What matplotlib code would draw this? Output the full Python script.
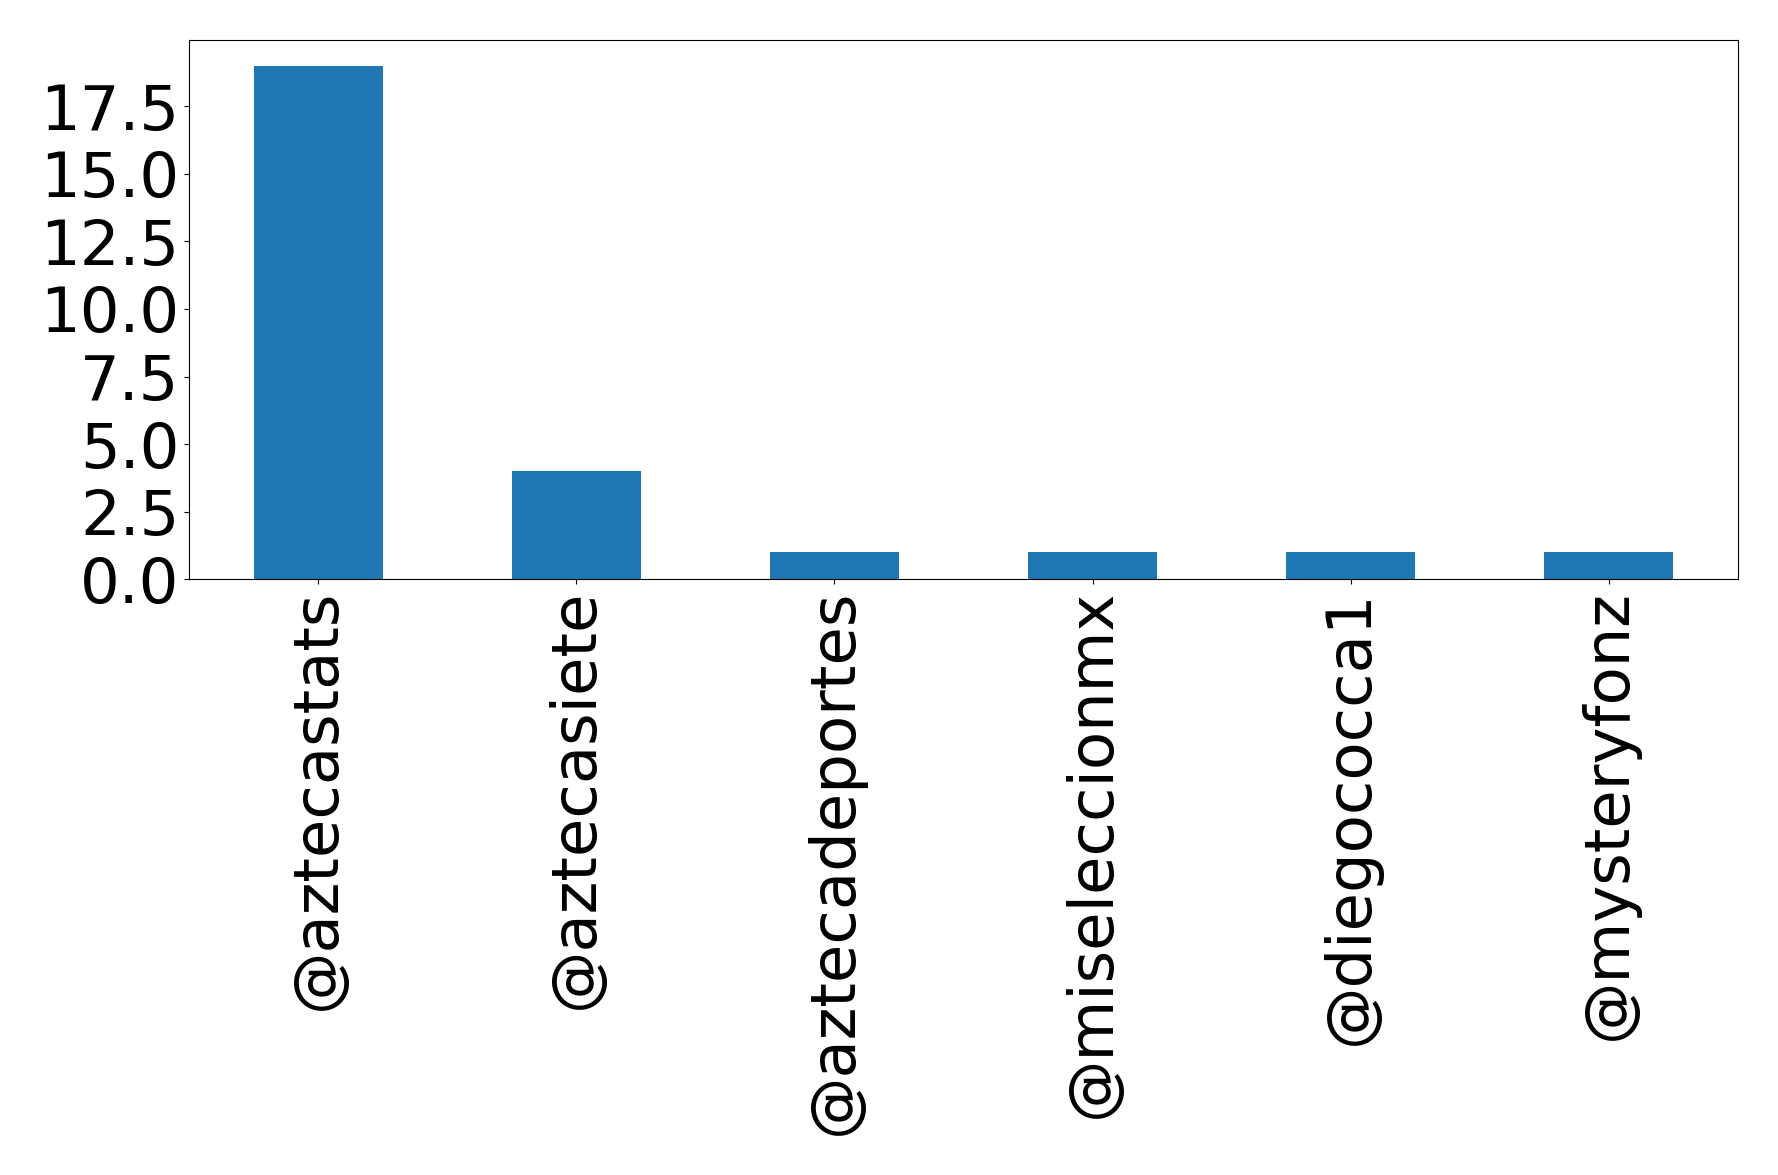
import matplotlib
matplotlib.use("Agg")
import matplotlib.pyplot as plt
import matplotlib.ticker as ticker
import pandas as pd

# Mention counts per account
accounts = ["@aztecastats", "@aztecasiete", "@aztecadeportes",
            "@miseleccionmx", "@diegococca1", "@mysteryfonz"]
counts = [19, 4, 1, 1, 1, 1]

series = pd.Series(counts, index=accounts)

fig = plt.figure(figsize=(17.78, 11.75), dpi=100)
ax = fig.add_axes([0.1063, 0.507, 0.8712, 0.459])

series.plot(kind="bar", ax=ax, color="#1f77b4")
ax.yaxis.set_major_locator(ticker.MultipleLocator(2.5))
ax.yaxis.set_major_formatter(ticker.FormatStrFormatter("%.1f"))
ax.tick_params(axis="both", labelsize=45)

fig.savefig("out.png", dpi=100)
